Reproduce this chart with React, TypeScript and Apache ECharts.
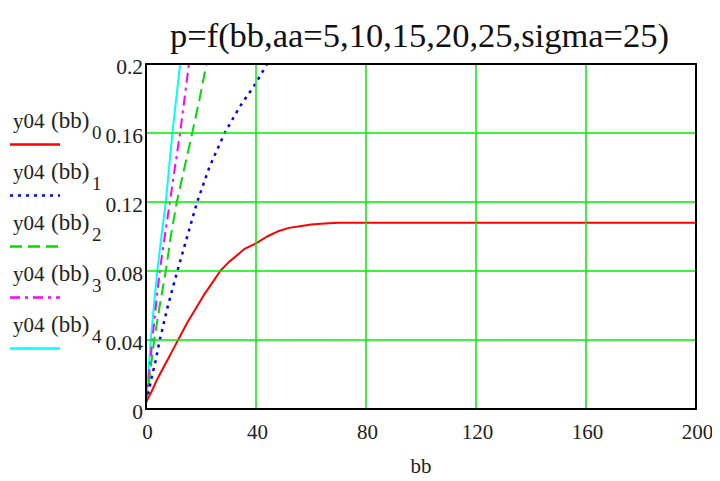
import React, { useEffect, useRef } from "react";
import * as echarts from "echarts";

const titleText = "p=f(bb,aa=5,10,15,20,25,sigma=25)";
const xAxisName = "bb";
const seriesFn = "y04";
const seriesArg = "(bb)";
const seriesIndex = ["0", "1", "2", "3", "4"];
const seriesColors = ["#ff0000", "#0000ff", "#00dd00", "#ff00ff", "#00ffff"];

const bb0 = [0, 2, 4, 6, 8, 10, 12, 15, 18, 21, 24, 27, 30, 33, 36, 40, 44, 48, 52, 56, 60, 65, 70, 80, 100, 150, 200];
const y0 = [0.004, 0.01, 0.017, 0.023, 0.029, 0.035, 0.041, 0.05, 0.058, 0.066, 0.073, 0.08, 0.085, 0.089, 0.093, 0.096, 0.1, 0.103, 0.105, 0.106, 0.107, 0.1075, 0.108, 0.108, 0.108, 0.108, 0.108];

const bb1 = [0, 1, 2, 3.5, 5, 8, 11.4, 15, 18.6, 23, 28.6, 34, 40, 44, 46];
const y1 = [0.004, 0.01, 0.018, 0.028, 0.04, 0.06, 0.08, 0.1, 0.12, 0.14, 0.16, 0.175, 0.189, 0.2, 0.205];

const bb2 = [0, 1, 3, 5, 7.2, 9, 11.2, 14, 16.8, 19.5, 22, 23];
const y2 = [0.004, 0.015, 0.04, 0.06, 0.08, 0.1, 0.12, 0.14, 0.16, 0.18, 0.2, 0.205];

const bb3 = [0, 0.8, 2.3, 3.6, 5, 6.8, 8.7, 10.5, 12.4, 14, 15.6, 16.5];
const y3 = [0.004, 0.015, 0.04, 0.06, 0.08, 0.1, 0.12, 0.14, 0.16, 0.18, 0.2, 0.21];

const bb4 = [0, 0.6, 1.7, 2.9, 4.1, 5.6, 7.2, 8.4, 9.6, 11, 12.4, 13];
const y4 = [0.004, 0.015, 0.04, 0.06, 0.08, 0.1, 0.12, 0.14, 0.16, 0.18, 0.2, 0.21];

const xs = [bb0, bb1, bb2, bb3, bb4];
const ys = [y0, y1, y2, y3, y4];

const lineTypes: any[] = ["solid", [3, 5], [12, 6], [10, 5, 3, 5], "solid"];

const FONT = "Times New Roman, Liberation Serif, DejaVu Serif, serif";

export default function App() {
  const ref = useRef<HTMLDivElement>(null);
  useEffect(() => {
    if (!ref.current) return;
    const chart = echarts.init(ref.current, null, { renderer: "svg" });
    const series = xs.map((xarr, i) => ({
      name: seriesFn + " " + seriesArg + seriesIndex[i],
      type: "line",
      data: xarr.map((x, j) => [x, ys[i][j]]),
      showSymbol: false,
      clip: true,
      lineStyle: { color: seriesColors[i], width: i === 1 ? 2.5 : 2, type: lineTypes[i] },
      z: 3 + (4 - i),
    }));
    const legendGraphics: any[] = [];
    seriesIndex.forEach((s, i) => {
      const ty = 122 + i * 51;
      const ly = 144.5 + i * 51;
      legendGraphics.push({
        type: "text",
        left: 13,
        top: ty - 12,
        style: { text: seriesFn, fontFamily: FONT, fontSize: 21, fill: "#222" },
      });
      legendGraphics.push({
        type: "text",
        left: 51,
        top: ty - 13,
        style: { text: seriesArg, fontFamily: FONT, fontSize: 23, fill: "#222" },
      });
      legendGraphics.push({
        type: "text",
        left: 92,
        top: ty + 1,
        style: { text: s, fontFamily: FONT, fontSize: 19, fill: "#222" },
      });
      legendGraphics.push({
        type: "line",
        shape: { x1: 10, y1: ly, x2: 60, y2: ly },
        style: {
          stroke: seriesColors[i],
          lineWidth: 2.5,
          lineDash: lineTypes[i] === "solid" ? null : lineTypes[i],
        },
      });
    });
    const hiddenAxis = {
      type: "value",
      axisLine: { show: true, onZero: false, lineStyle: { color: "#000", width: 2 } },
      axisTick: { show: false },
      axisLabel: { show: false },
      splitLine: { show: false },
      z: 10,
    };
    chart.setOption({
      animation: false,
      backgroundColor: "#ffffff",
      title: {
        text: titleText,
        left: 414.5,
        top: 12,
        textAlign: "center",
        textStyle: { fontFamily: FONT, fontSize: 34.5, fontWeight: "normal", color: "#111" },
      },
      grid: {
        left: 146,
        right: 24,
        top: 64,
        bottom: 65,
      },
      xAxis: [
        {
          type: "value",
          min: 0,
          max: 200,
          interval: 40,
          position: "bottom",
          name: xAxisName,
          nameLocation: "middle",
          nameGap: 46,
          nameTextStyle: { fontFamily: FONT, fontSize: 21, color: "#222" },
          axisLine: { show: true, onZero: false, lineStyle: { color: "#000", width: 2 } },
          axisTick: { show: false },
          axisLabel: { fontFamily: FONT, fontSize: 21, color: "#222", margin: 12, padding: [0, 0, 0, 3] },
          splitLine: { show: true, lineStyle: { color: "#00ee00", width: 1.5 } },
          z: 10,
        },
        { ...hiddenAxis, min: 0, max: 200, position: "top" },
      ],
      yAxis: [
        {
          type: "value",
          min: 0,
          max: 0.2,
          interval: 0.04,
          position: "left",
          axisLine: { show: true, onZero: false, lineStyle: { color: "#000", width: 2 } },
          axisTick: { show: false },
          axisLabel: { fontFamily: FONT, fontSize: 21.5, color: "#222", margin: 3, verticalAlign: "top", lineHeight: 6 },
          splitLine: { show: true, lineStyle: { color: "#00ee00", width: 1.5 } },
          z: 10,
        },
        { ...hiddenAxis, min: 0, max: 0.2, position: "right" },
      ],
      series,
      graphic: legendGraphics,
    });
    return () => chart.dispose();
  }, []);
  return <div ref={ref} style={{ width: 720, height: 481, margin: -8 }} />;
}
